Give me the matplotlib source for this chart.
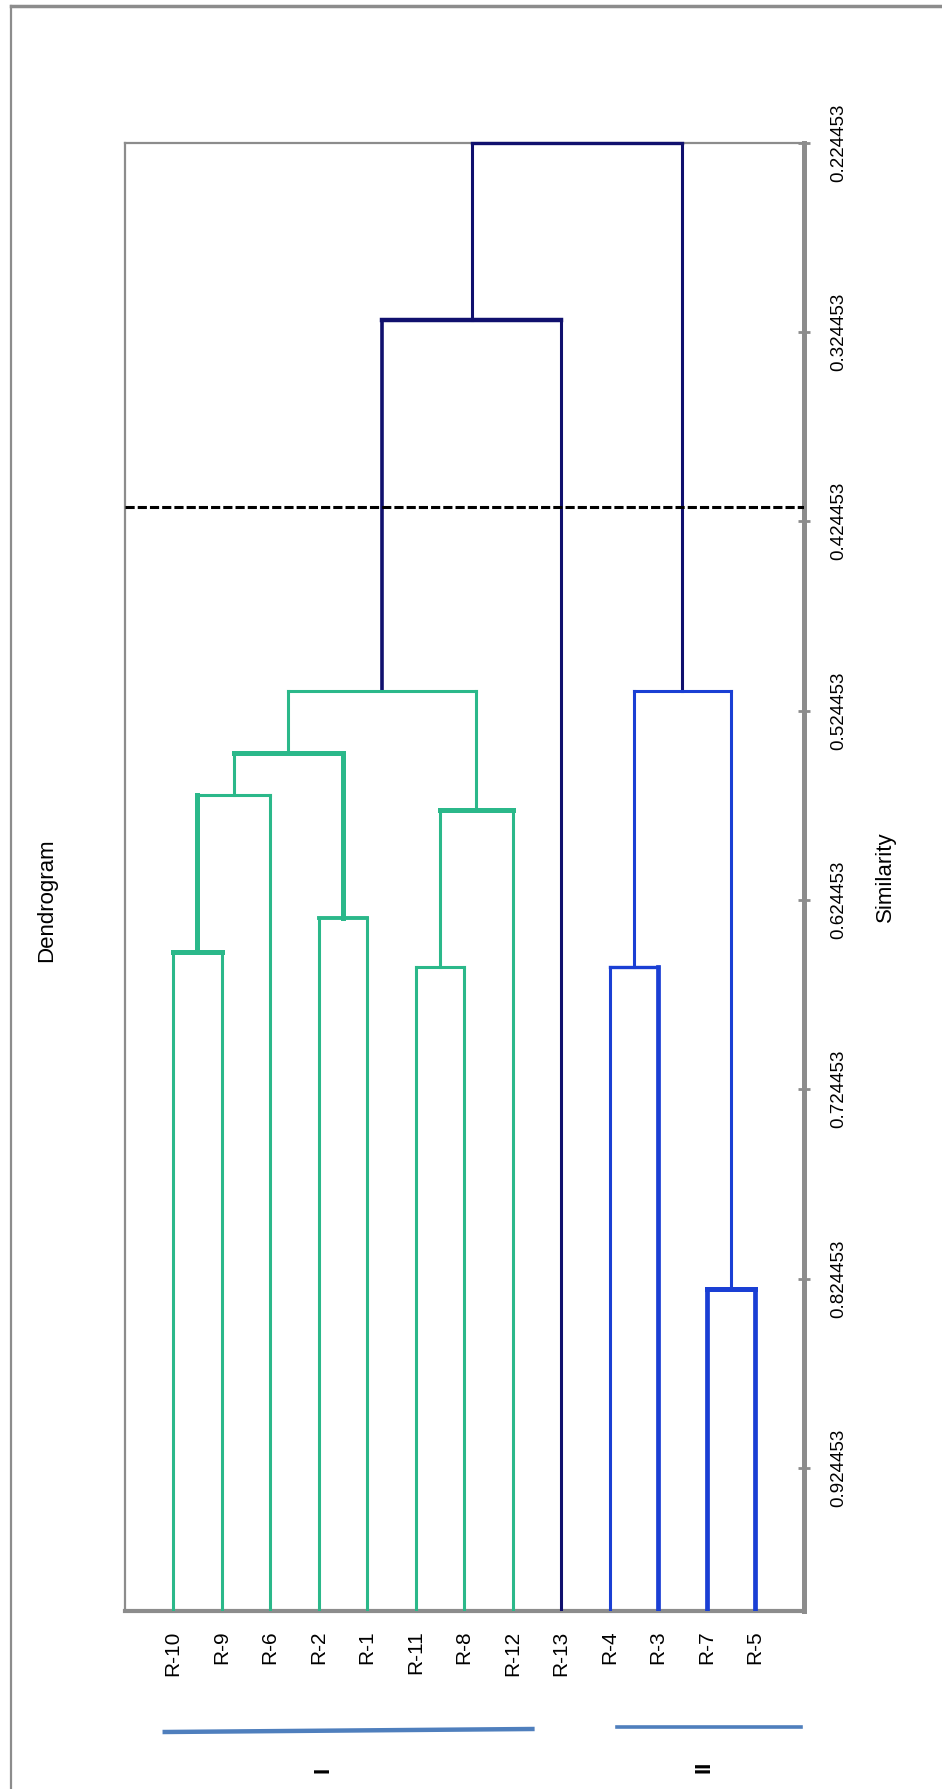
import numpy as np
import matplotlib.pyplot as plt
from matplotlib.lines import Line2D
from matplotlib.transforms import blended_transform_factory

plt.rcParams['font.family'] = ['Liberation Sans', 'DejaVu Sans']

# leaves in drawing order (left to right)
leaves = ["R-10", "R-9", "R-6", "R-2", "R-1", "R-11", "R-8", "R-12",
          "R-13", "R-4", "R-3", "R-7", "R-5"]

# merges: children are leaf names or earlier merges "m<k>"
merge_left = ["R-10", "m0", "R-2", "m1", "R-11", "m4", "m3",
              "R-4", "R-7", "m7", "m6", "m10"]
merge_right = ["R-9", "R-6", "R-1", "m2", "R-8", "R-12", "m5",
               "R-3", "R-5", "m8", "R-13", "m9"]
merge_sim = [0.652, 0.569, 0.634, 0.547, 0.660, 0.577, 0.514,
             0.660, 0.830, 0.514, 0.318, 0.224453]
merge_group = ["I", "I", "I", "I", "I", "I", "I",
               "II", "II", "II", "top", "top"]

cut_level = 0.417
sim_ticks = [0.224453, 0.324453, 0.424453, 0.524453,
             0.624453, 0.724453, 0.824453, 0.924453]
sim_min, sim_max = 0.224453, 1.0

# line widths: horizontal bar, left leg, right leg of every merge
lw_h = [3.6, 2.2, 2.8, 3.6, 2.2, 3.6, 2.2, 2.4, 3.6, 2.2, 3.2, 2.4]
lw_l = [2.2, 3.6, 2.2, 2.2, 2.2, 2.2, 2.2, 2.2, 3.4, 2.2, 2.6, 2.2]
lw_r = [2.2, 2.2, 2.2, 3.6, 2.2, 2.2, 2.2, 3.4, 3.4, 2.2, 2.2, 2.2]

colors = {"I": "#2bb88a", "II": "#1a3fd4", "top": "#10106e"}
grey = "#8c8c8c"

W, H = 942, 1789
fig = plt.figure(figsize=(W / 100, H / 100), dpi=100)
ax = fig.add_axes([124.5 / W, 1 - 1611 / H, 679 / W, 1468.5 / H])

# node positions
pos = {name: i + 1 for i, name in enumerate(leaves)}
height = {name: sim_max for name in leaves}

for k in range(len(merge_sim)):
    a, b, s = merge_left[k], merge_right[k], merge_sim[k]
    c = colors[merge_group[k]]
    xa, xb = pos[a], pos[b]
    top = s == sim_min
    ax.plot([xa, xa], [height[a], s], color=c, lw=lw_l[k],
            solid_capstyle='projecting', zorder=3)
    ax.plot([xb, xb], [height[b], s], color=c, lw=lw_r[k],
            solid_capstyle='projecting', zorder=3)
    ax.plot([xa, xb], [s, s], color=c, lw=lw_h[k],
            solid_capstyle='projecting', zorder=4, clip_on=not top)
    pos["m%d" % k] = (xa + xb) / 2
    height["m%d" % k] = s

# cut line
ax.axhline(cut_level, color="black", lw=2.2, ls=(0, (3, 1)), zorder=5)

ax.set_xlim(0, 14)
ax.set_ylim(sim_max, sim_min)

ax.set_xticks(range(1, len(leaves) + 1))
ax.set_xticklabels(leaves, rotation=90, fontsize=15)
ax.tick_params(axis='x', length=0, pad=14)

ax.yaxis.tick_right()
ax.set_yticks(sim_ticks)
ax.set_yticklabels(["%.6f" % v for v in sim_ticks], rotation=90,
                   va='center', fontsize=13.5)
ax.tick_params(axis='y', direction='inout', length=8, width=2,
               color=grey, pad=15)
ax.yaxis.set_label_position('right')
ax.set_ylabel("Similarity", fontsize=16, labelpad=20, rotation=90)

for side, w in [("left", 1.6), ("top", 1.6), ("right", 3.6), ("bottom", 3.0)]:
    ax.spines[side].set_color(grey)
    ax.spines[side].set_linewidth(w)

fig.text(47 / W, 1 - 900 / H, "Dendrogram", rotation=90, ha='center',
         va='center', fontsize=16)

# group brackets under the leaf labels
tr = blended_transform_factory(ax.transData, fig.transFigure)
bar_c = "#4f7fbd"
ax.add_line(Line2D([0.83, 8.41], [1 - 1732 / H, 1 - 1729 / H], color=bar_c,
                   lw=3.2, transform=tr, clip_on=False))
ax.add_line(Line2D([10.15, 13.95], [1 - 1727 / H, 1 - 1727 / H], color=bar_c,
                   lw=2.6, transform=tr, clip_on=False))
ax.text(4.09, 1 - 1770 / H, "I", transform=tr, rotation=90, ha='center',
        va='center', fontsize=16, fontweight='bold')
ax.text(11.95, 1 - 1767 / H, "II", transform=tr, rotation=90, ha='center',
        va='center', fontsize=16, fontweight='bold')

# outer chart frame (top and left edges visible)
fig.add_artist(Line2D([11 / W, 1], [1 - 6 / H, 1 - 6 / H], color=grey,
                      lw=2.5, transform=fig.transFigure))
fig.add_artist(Line2D([11 / W, 11 / W], [0, 1 - 6 / H], color=grey,
                      lw=1.6, transform=fig.transFigure))

fig.savefig("out.png", dpi=100)
